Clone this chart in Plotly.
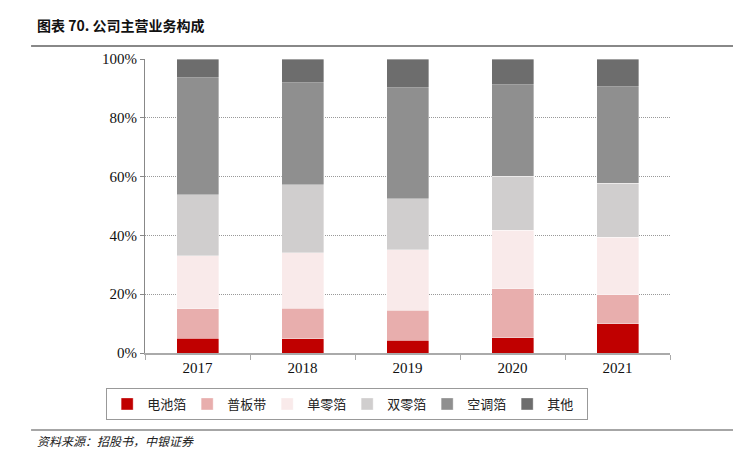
import plotly.graph_objects as go

years = ["2017", "2018", "2019", "2020", "2021"]
series_names = ["电池箔", "普板带", "单零箔", "双零箔", "空调箔", "其他"]
battery_foil = [5.1, 4.8, 4.3, 5.2, 9.9]
plate_strip = [10.0, 10.5, 10.2, 16.7, 9.9]
single_zero = [18.0, 18.8, 20.7, 19.9, 19.5]
double_zero = [20.8, 23.1, 17.3, 18.3, 18.4]
ac_foil = [39.7, 34.7, 37.8, 31.2, 32.9]
others = [6.4, 8.1, 9.7, 8.7, 9.4]
colors = ["#C00000", "#E8AEAD", "#F9EAEA", "#D0CECE", "#8F8F8F", "#6D6D6D"]
y_ticks = [0, 20, 40, 60, 80, 100]
y_tick_labels = ["0%", "20%", "40%", "60%", "80%", "100%"]

all_series = [battery_foil, plate_strip, single_zero, double_zero, ac_foil, others]

fig = go.Figure()
for name, vals, c in zip(series_names, all_series, colors):
    fig.add_trace(go.Bar(
        x=years, y=vals, name=name,
        marker=dict(color=c, line=dict(color="rgba(255,255,255,0.6)", width=0.6)),
        width=0.4,
    ))

serif = "Liberation Serif"
cjk = "Noto Sans CJK SC"

fig.update_layout(
    barmode="stack",
    width=733, height=453,
    margin=dict(l=137, r=71, t=51, b=108),
    paper_bgcolor="white", plot_bgcolor="white",
    showlegend=True,
    legend=dict(
        orientation="h", x=-0.074, y=-0.119, xanchor="left", yanchor="top",
        bordercolor="#999999", borderwidth=1,
        font=dict(family=cjk, size=13, color="#222"),
        entrywidth=35, entrywidthmode="pixels",
        itemwidth=30,
        traceorder="normal",
    ),
    xaxis=dict(
        type="category",
        showline=True, linecolor="#AAAAAA", linewidth=1.5,
        ticks="outside", tickson="boundaries", ticklen=5, tickcolor="#AAAAAA",
        tickfont=dict(family=serif, size=15, color="#111"),
        showgrid=False,
    ),
    yaxis=dict(
        range=[0, 100], tickvals=y_ticks, ticktext=y_tick_labels,
        showline=True, linecolor="#888888", linewidth=1,
        ticks="outside", ticklen=4, tickcolor="#888888",
        tickfont=dict(family=serif, size=15, color="#111"),
        showgrid=True, gridcolor="#999999", griddash="1px,1px", gridwidth=1,
        zeroline=False,
    ),
    bargap=0.6,
)

fig.add_annotation(
    text="<b>图表 70. 公司主营业务构成</b>", xref="paper", yref="paper",
    x=-0.21, y=1.116, xanchor="left", yanchor="middle", showarrow=False,
    font=dict(family=cjk, size=14, color="#111"),
)
fig.add_annotation(
    text="<i>资料来源：招股书，中银证券</i>", xref="paper", yref="paper",
    x=-0.21, y=-0.298, xanchor="left", yanchor="middle", showarrow=False,
    font=dict(family=cjk, size=12, color="#222"),
)
fig.add_shape(type="line", xref="paper", yref="paper",
              x0=-0.217, x1=1.135, y0=1.044, y1=1.044,
              line=dict(color="#888888", width=2))
fig.add_shape(type="line", xref="paper", yref="paper",
              x0=-0.217, x1=1.135, y0=-0.262, y1=-0.262,
              line=dict(color="#888888", width=1.5))

fig.write_html("out.html")
